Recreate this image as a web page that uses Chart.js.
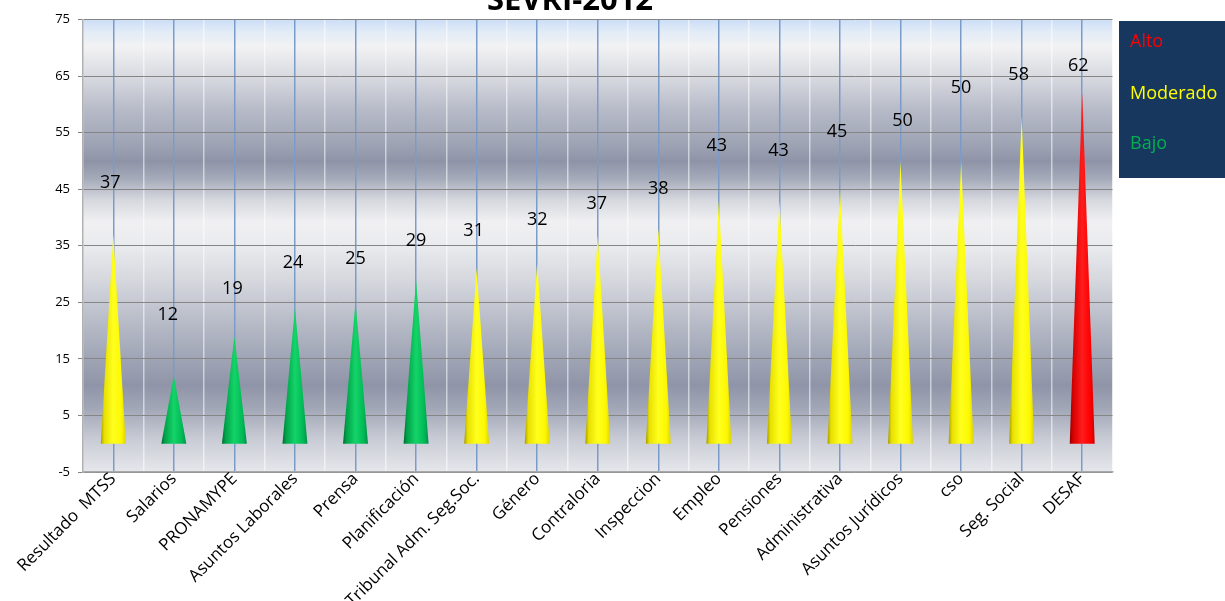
<!DOCTYPE html>
<html>
<head>
<meta charset="utf-8">
<script src="https://cdn.jsdelivr.net/npm/chart.js@4.4.1/dist/chart.umd.min.js"></script>
<style>
  html, body { margin: 0; padding: 0; background: #ffffff; }
  #wrap { position: relative; width: 1225px; height: 601px; overflow: hidden; }
  canvas { display: block; }
</style>
</head>
<body>
<div id="wrap"><canvas id="sevri" width="1225" height="601"></canvas></div>
<script>
// SEVRI-2012: nivel de riesgo por dependencia
const categories = [
  'Resultado  MTSS', 'Salarios', 'PRONAMYPE', 'Asuntos Laborales', 'Prensa',
  'Planificación', 'Tribunal Adm. Seg.Soc.', 'Género', 'Contraloria', 'Inspeccion',
  'Empleo', 'Pensiones', 'Administrativa', 'Asuntos Jurídicos', 'cso',
  'Seg. Social', 'DESAF'
];
const riskScores = [37, 12, 19, 24, 25, 29, 31, 32, 37, 38, 43, 43, 45, 50, 50, 58, 62];
const riskLevels = [
  'Moderado', 'Bajo', 'Bajo', 'Bajo', 'Bajo', 'Bajo', 'Moderado', 'Moderado', 'Moderado',
  'Moderado', 'Moderado', 'Moderado', 'Moderado', 'Moderado', 'Moderado', 'Moderado', 'Alto'
];
const legendLevels = ['Alto', 'Moderado', 'Bajo'];
const yTickValues = [-5, 5, 15, 25, 35, 45, 55, 65, 75];
const chartTitle = 'SEVRI-2012';

// colours per risk level: flat text colour + cone shading stops
const levelStyle = {
  Alto:     { text: '#ff0000', stops: ['#8e0000', '#d80000', '#ff1c1c', '#ff0000', '#cc0000'] },
  Moderado: { text: '#ffff00', stops: ['#a49a00', '#e8e000', '#ffff1e', '#fdf800', '#dcd400'] },
  Bajo:     { text: '#00b050', stops: ['#006a2c', '#00a24a', '#14d468', '#00ba56', '#00904a'] }
};

// value label placement (pixels above the cone tip, horizontal nudge)
const labelLift  = [52, 61, 47, 45, 43, 39, 38, 43, 31, 40, 55, 50, 57, 40, 73, 41, 27];
const labelShift = [-3, -6, -2, -2, 0, 0, -3, 0, -1, 0, -2, -1, -3, 2, 0, -3, -4];

const FONT = '"Open Sans", "DejaVu Sans", sans-serif';

// metallic banded plot background
const plotBackground = {
  id: 'plotBackground',
  beforeDraw(chart) {
    const { ctx, chartArea: a } = chart;
    const g = ctx.createLinearGradient(0, a.top, 0, a.bottom);
    const h = a.bottom - a.top;
    const band = [
      [0, '#cbdef7'], [12, '#e2ebf7'], [27, '#f2f2f3'], [56, '#d9dbe1'],
      [90, '#b7bbc8'], [125, '#9ea3b4'], [142, '#8e93a7'], [160, '#a7acbb'],
      [180, '#d5d7de'], [202, '#f0f0f2'], [226, '#eaebee'], [260, '#d6d8de'],
      [300, '#b9bdc9'], [340, '#9fa4b5'], [366, '#8f94a8'], [390, '#a3a8b8'],
      [420, '#c9ccd5'], [452, '#e6e7ec']
    ];
    band.forEach(([p, c]) => g.addColorStop(Math.min(1, p / h), c));
    ctx.save();
    ctx.fillStyle = g;
    ctx.fillRect(a.left, a.top, a.right - a.left, a.bottom - a.top);
    ctx.restore();
  }
};

// shaded cones drawn over each bar element's geometry
const coneBars = {
  id: 'coneBars',
  afterDatasetsDraw(chart) {
    const { ctx } = chart;
    const meta = chart.getDatasetMeta(0);
    ctx.save();
    meta.data.forEach((el, i) => {
      const { x, y, base, width } = el.getProps(['x', 'y', 'base', 'width'], true);
      const half = width / 2;
      const st = levelStyle[riskLevels[i]].stops;
      const g = ctx.createLinearGradient(x - half, 0, x + half, 0);
      g.addColorStop(0, st[0]);
      g.addColorStop(0.14, st[1]);
      g.addColorStop(0.5, st[2]);
      g.addColorStop(0.82, st[3]);
      g.addColorStop(1, st[4]);
      ctx.beginPath();
      ctx.moveTo(x - half, base);
      ctx.lineTo(x, y);
      ctx.lineTo(x + half, base);
      ctx.closePath();
      ctx.fillStyle = g;
      ctx.fill();
    });
    // value labels
    ctx.font = '18px ' + FONT;
    ctx.fillStyle = '#000000';
    ctx.textAlign = 'center';
    ctx.textBaseline = 'middle';
    meta.data.forEach((el, i) => {
      ctx.fillText(String(riskScores[i]), el.x + labelShift[i], el.y - labelLift[i]);
    });
    ctx.restore();
  }
};

// title (clipped by the top edge) and the risk-level key
const titleAndKey = {
  id: 'titleAndKey',
  afterDraw(chart) {
    const { ctx } = chart;
    ctx.save();
    ctx.font = 'bold 31px ' + FONT;
    ctx.fillStyle = '#000000';
    ctx.textAlign = 'center';
    ctx.textBaseline = 'alphabetic';
    ctx.fillText(chartTitle, 570, 10);

    ctx.fillStyle = '#17375e';
    ctx.fillRect(1119, 21, 106, 157);
    ctx.font = '18px ' + FONT;
    ctx.textAlign = 'left';
    const baselines = [46.5, 98.5, 148.5];
    legendLevels.forEach((lv, i) => {
      ctx.fillStyle = levelStyle[lv].text;
      ctx.fillText(lv, 1130, baselines[i]);
    });
    ctx.restore();
  }
};

new Chart(document.getElementById('sevri'), {
  type: 'bar',
  data: {
    labels: categories,
    datasets: [{
      label: 'SEVRI-2012',
      data: riskScores,
      backgroundColor: 'rgba(0,0,0,0)',
      borderWidth: 0,
      barThickness: 25
    }]
  },
  options: {
    responsive: false,
    animation: false,
    devicePixelRatio: 1,
    layout: { padding: { left: 0, top: 19.5, right: 112.5, bottom: 0 } },
    plugins: {
      legend: { display: false },
      title: { display: false },
      tooltip: { enabled: false }
    },
    scales: {
      x: {
        type: 'category',
        offset: true,
        position: 'bottom',
        grid: { offset: false, color: '#7b9bc9', lineWidth: 1.5, drawTicks: false },
        border: { color: '#a8a8a8', width: 1.5 },
        ticks: {
          autoSkip: false,
          maxRotation: 45,
          minRotation: 45,
          padding: -3,
          color: '#000000',
          font: { family: FONT, size: 17 }
        },
        afterFit(scale) { scale.height = 129; }
      },
      xBands: {
        type: 'category',
        labels: categories,
        offset: true,
        position: 'bottom',
        grid: { offset: true, color: 'rgba(255,255,255,0.55)', lineWidth: 1.5, drawTicks: false },
        border: { display: false },
        ticks: { display: false },
        afterFit(scale) { scale.height = 0; }
      },
      y: {
        min: -5,
        max: 75,
        afterBuildTicks(scale) { scale.ticks = yTickValues.map(v => ({ value: v })); },
        grid: { color: '#858585', lineWidth: 1, tickLength: 5, drawTicks: true },
        border: { color: '#b0b0b0', width: 1.5 },
        ticks: {
          padding: 8,
          color: '#000000',
          font: { family: FONT, size: 13 }
        },
        afterFit(scale) { scale.width = 83; }
      }
    }
  },
  plugins: [plotBackground, coneBars, titleAndKey]
});
</script>
</body>
</html>
